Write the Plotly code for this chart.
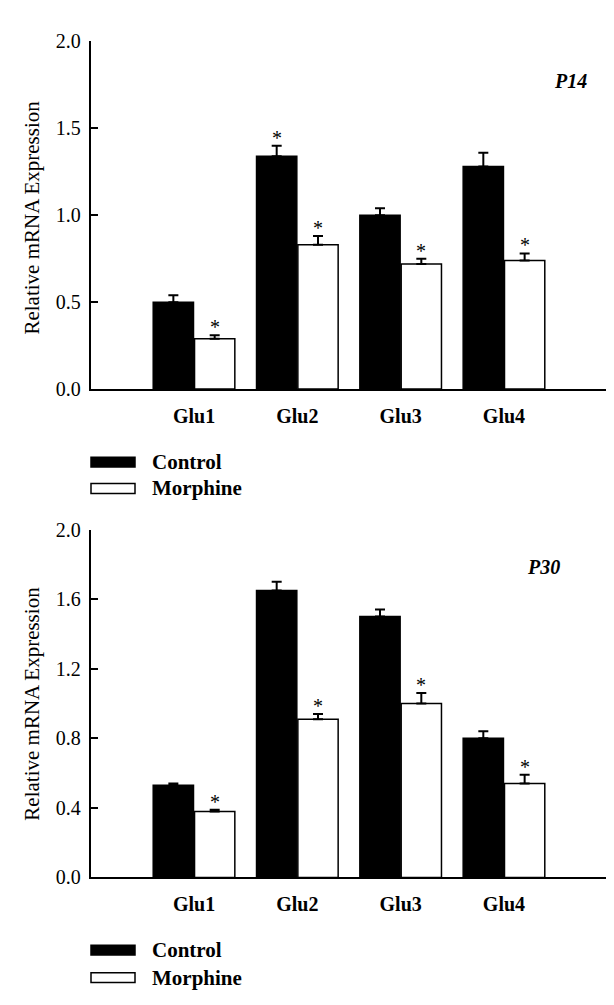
import plotly.graph_objects as go

W, H = 614, 1005

categories = ["Glu1", "Glu2", "Glu3", "Glu4"]

# P14
p14_control = [0.50, 1.34, 1.00, 1.28]
p14_control_err = [0.04, 0.06, 0.04, 0.08]
p14_morphine = [0.29, 0.83, 0.72, 0.74]
p14_morphine_err = [0.02, 0.05, 0.03, 0.04]
p14_control_sig = [False, True, False, False]
p14_morphine_sig = [True, True, True, True]

# P30
p30_control = [0.53, 1.65, 1.50, 0.80]
p30_control_err = [0.01, 0.05, 0.04, 0.04]
p30_morphine = [0.38, 0.91, 1.00, 0.54]
p30_morphine_err = [0.01, 0.03, 0.06, 0.05]
p30_control_sig = [False, False, False, False]
p30_morphine_sig = [True, True, True, True]

p14_ticks = [0.0, 0.5, 1.0, 1.5, 2.0]
p30_ticks = [0.0, 0.4, 0.8, 1.2, 1.6, 2.0]

FONT = "Liberation Serif, Times New Roman, serif"
BW = 0.39
xs = list(range(len(categories)))

fig = go.Figure()

def px_y(py):
    return 1 - py / H

panels = [
    dict(ctrl=p14_control, ce=p14_control_err, morph=p14_morphine, me=p14_morphine_err,
         cs=p14_control_sig, ms=p14_morphine_sig, ticks=p14_ticks, fmt=".1f",
         xa="x", ya="y", dom=(px_y(378.3), px_y(23)), label="P14", lab_xy=(562, 63),
         leg=(453, 480), title_y=203),
    dict(ctrl=p30_control, ce=p30_control_err, morph=p30_morphine, me=p30_morphine_err,
         cs=p30_control_sig, ms=p30_morphine_sig, ticks=p30_ticks, fmt=".1f",
         xa="x2", ya="y2", dom=(px_y(877.7), px_y(522)), label="P30", lab_xy=(535, 560),
         leg=(952, 980), title_y=700),
]

annotations = []
shapes = []
for i, p in enumerate(panels):
    fig.add_trace(go.Bar(
        x=xs, y=p["ctrl"], width=BW, offset=-BW - 0.005,
        marker=dict(color="black", line=dict(color="black", width=1.5)),
        error_y=dict(type="data", array=p["ce"], arrayminus=[0] * 4, symmetric=False,
                     color="black", thickness=2, width=5),
        xaxis=p["xa"], yaxis=p["ya"], showlegend=False, name="Control"))
    fig.add_trace(go.Bar(
        x=xs, y=p["morph"], width=BW, offset=0.005,
        marker=dict(color="white", line=dict(color="black", width=1.5)),
        error_y=dict(type="data", array=p["me"], arrayminus=[0] * 4, symmetric=False,
                     color="black", thickness=2, width=5),
        xaxis=p["xa"], yaxis=p["ya"], showlegend=False, name="Morphine"))
    # significance stars
    for j in xs:
        if p["cs"][j]:
            annotations.append(dict(x=j - BW / 2 - 0.005, y=p["ctrl"][j] + p["ce"][j],
                                    xref=p["xa"], yref=p["ya"], text="*", showarrow=False,
                                    yanchor="middle", yshift=8,
                                    font=dict(family=FONT, size=20, color="black")))
        if p["ms"][j]:
            annotations.append(dict(x=j + BW / 2 + 0.005, y=p["morph"][j] + p["me"][j],
                                    xref=p["xa"], yref=p["ya"], text="*", showarrow=False,
                                    yanchor="middle", yshift=8,
                                    font=dict(family=FONT, size=20, color="black")))
    # panel label
    annotations.append(dict(x=p["lab_xy"][0] / W, y=px_y(p["lab_xy"][1]), xref="paper", yref="paper",
                            text="<b><i>%s</i></b>" % p["label"], showarrow=False,
                            xanchor="center", yanchor="middle",
                            font=dict(family=FONT, size=20, color="black")))
    # y title
    annotations.append(dict(x=24 / W, y=px_y(p["title_y"]), xref="paper", yref="paper",
                            text="Relative mRNA Expression", textangle=-90, showarrow=False,
                            xanchor="center", yanchor="middle",
                            font=dict(family=FONT, size=21, color="black")))
    # legend
    for k, (nm, fill) in enumerate([("Control", "black"), ("Morphine", "white")]):
        cy = p["leg"][k]
        shapes.append(dict(type="rect", xref="paper", yref="paper",
                           x0=83 / W, x1=127 / W, y0=px_y(cy + 5), y1=px_y(cy - 5),
                           fillcolor=fill, line=dict(color="black", width=1.5)))
        annotations.append(dict(x=142 / W, y=px_y(cy), xref="paper", yref="paper",
                                text="<b>%s</b>" % nm, showarrow=False,
                                xanchor="left", yanchor="middle",
                                font=dict(family=FONT, size=21, color="black")))

xdom = [82.7 / W, 599.3 / W]
common_x = dict(domain=xdom, range=[-1, 4], tickvals=xs, ticktext=["<b>%s</b>" % c for c in categories],
                showline=True, linecolor="black", linewidth=2, ticks="", showgrid=False,
                zeroline=False, tickfont=dict(family=FONT, size=20, color="black"),
                ticklabelstandoff=8)

def yax(p):
    return dict(domain=list(p["dom"]), range=[0, 2], tickvals=p["ticks"], tickformat=p["fmt"],
                showline=True, linecolor="black", linewidth=2, ticks="inside", ticklen=7,
                tickwidth=2, tickcolor="black", showgrid=False, zeroline=False,
                tickfont=dict(family=FONT, size=20, color="black"), ticklabelstandoff=4)

fig.update_layout(
    width=W, height=H, margin=dict(l=0, r=0, t=0, b=0),
    paper_bgcolor="white", plot_bgcolor="white",
    xaxis=dict(common_x, anchor="y"),
    xaxis2=dict(common_x, anchor="y2"),
    yaxis=dict(yax(panels[0]), anchor="x"),
    yaxis2=dict(yax(panels[1]), anchor="x2"),
    annotations=annotations, shapes=shapes,
    barmode="overlay", showlegend=False,
)

fig.write_html("out.html")
